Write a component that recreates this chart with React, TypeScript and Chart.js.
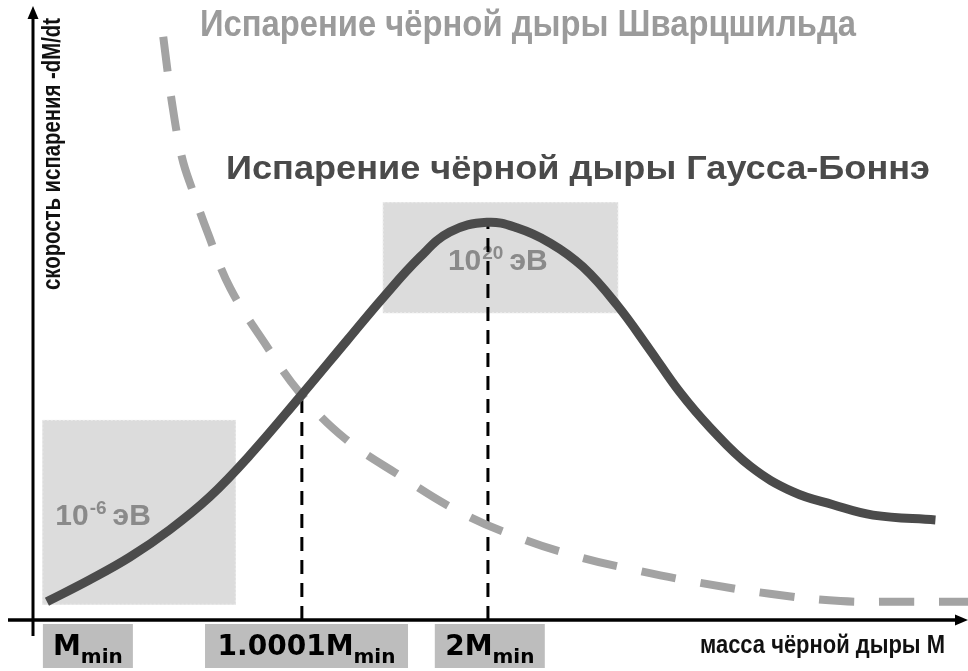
import React, { useEffect, useRef } from "react";
import { Chart, registerables } from "chart.js";

Chart.register(...registerables);

// Испарение чёрной дыры Гаусса-Боннэ (solid curve)
const gbMass = [1.5, 6.1, 10.4, 14.7, 19.0, 23.3, 28.7, 33.8, 37.6, 41.6, 44.8, 48.8, 52.0, 55.6, 59.1, 62.8, 66.3, 69.5, 72.8, 77.1, 81.7, 86.0, 90.3, 97.0];
const gbRate = [3.0, 6.6, 10.3, 14.8, 20.2, 27.0, 36.6, 45.9, 52.8, 59.5, 63.6, 65.2, 64.3, 61.8, 57.9, 51.6, 44.3, 37.4, 31.5, 25.2, 21.0, 18.9, 17.2, 16.4];

// Испарение чёрной дыры Шварцшильда (dashed curve)
const swMass = [14.0, 14.9, 16.0, 17.2, 18.8, 21.2, 24.9, 28.7, 33.5, 39.5, 45.9, 52.4, 58.8, 65.3, 71.7, 79.2, 86.8, 93.2, 100.5];
const swRate = [95.6, 85.2, 75.9, 70.2, 63.4, 54.4, 45.4, 37.2, 29.8, 23.6, 17.7, 13.4, 10.3, 8.0, 6.1, 4.3, 3.1, 3.0, 3.0];

// marker mass values (vertical dashed lines) and the rate where they meet the curve
const markerMass = [28.9, 48.9];
const markerRate = [36.7, 65.2];

// x-axis tick labels
const tickMass = [5.9, 29.4, 49.1];
const tickMain = ["M", "1.0001M", "2M"];
const tickSub = ["min", "min", "min"];

// energy regions
const regionMassFrom = [1.0, 37.6];
const regionMassTo = [21.8, 62.9];
const regionRateFrom = [2.5, 50.3];
const regionRateTo = [32.8, 68.5];
const regionBase = ["10", "10"];
const regionExp = ["-6", "20"];
const regionUnit = ["эВ", "эВ"];
const regionLabelMass = [2.4, 44.6];
const regionLabelRate = [15.6, 57.4];

const titleSchwarzschild = "Испарение чёрной дыры Шварцшильда";
const titleGaussBonnet = "Испарение чёрной дыры Гаусса-Боннэ";
const xAxisTitle = "масса чёрной дыры М";
const yAxisTitle = "скорость испарения -dM/dt";

const drawFit = (
  ctx: CanvasRenderingContext2D,
  text: string,
  x: number,
  y: number,
  w: number,
  font: string,
  color: string
) => {
  ctx.save();
  ctx.font = font;
  const m = ctx.measureText(text).width;
  ctx.translate(x, y);
  ctx.scale(w / m, 1);
  ctx.fillStyle = color;
  ctx.textAlign = "left";
  ctx.textBaseline = "alphabetic";
  ctx.fillText(text, 0, 0);
  ctx.restore();
};

const decorPlugin = {
  id: "decor",
  beforeDatasetsDraw(chart: any) {
    const ctx: CanvasRenderingContext2D = chart.ctx;
    const xs = chart.scales.x;
    const ys = chart.scales.y;
    ctx.save();
    for (let i = 0; i < regionMassFrom.length; i++) {
      const x1 = xs.getPixelForValue(regionMassFrom[i]);
      const x2 = xs.getPixelForValue(regionMassTo[i]);
      const y1 = ys.getPixelForValue(regionRateTo[i]);
      const y2 = ys.getPixelForValue(regionRateFrom[i]);
      ctx.fillStyle = "#dcdcdc";
      ctx.fillRect(x1, y1, x2 - x1, y2 - y1);
      ctx.strokeStyle = "#ececec";
      ctx.lineWidth = 1;
      ctx.setLineDash([2, 2]);
      ctx.strokeRect(x1 + 0.5, y1 + 0.5, x2 - x1 - 1, y2 - y1 - 1);
      ctx.setLineDash([]);
      // label
      let lx = xs.getPixelForValue(regionLabelMass[i]);
      const ly = ys.getPixelForValue(regionLabelRate[i]);
      ctx.fillStyle = "#8a8a8a";
      ctx.textBaseline = "alphabetic";
      ctx.textAlign = "left";
      ctx.font = "bold 30px 'Liberation Sans', Arial, sans-serif";
      ctx.fillText(regionBase[i], lx, ly);
      lx += ctx.measureText(regionBase[i]).width + 1;
      ctx.font = "bold 19px 'Liberation Sans', Arial, sans-serif";
      ctx.fillText(regionExp[i], lx, ly - 11);
      lx += ctx.measureText(regionExp[i]).width + 6;
      ctx.font = "bold 30px 'Liberation Sans', Arial, sans-serif";
      ctx.fillText(regionUnit[i], lx, ly);
    }
    ctx.restore();
  },
  afterDatasetsDraw(chart: any) {
    const ctx: CanvasRenderingContext2D = chart.ctx;
    const xs = chart.scales.x;
    const ys = chart.scales.y;
    const ox = xs.getPixelForValue(0);
    const oy = ys.getPixelForValue(0);
    const top = chart.chartArea.top;
    const right = chart.width;
    ctx.save();

    // bottom tick label boxes
    const boxW = [90, 203, 110];
    for (let i = 0; i < tickMass.length; i++) {
      const cx = xs.getPixelForValue(tickMass[i]);
      ctx.fillStyle = "#bdbdbd";
      ctx.fillRect(cx - boxW[i] / 2, oy + 4, boxW[i], 44);
      ctx.font = "bold 28px 'DejaVu Sans', Verdana, sans-serif";
      const w1 = ctx.measureText(tickMain[i]).width;
      ctx.font = "bold 20px 'DejaVu Sans', Verdana, sans-serif";
      const w2 = ctx.measureText(tickSub[i]).width;
      const sx = cx - (w1 + w2) / 2;
      ctx.fillStyle = "#000";
      ctx.textAlign = "left";
      ctx.textBaseline = "alphabetic";
      ctx.font = "bold 28px 'DejaVu Sans', Verdana, sans-serif";
      ctx.fillText(tickMain[i], sx, oy + 35);
      ctx.font = "bold 20px 'DejaVu Sans', Verdana, sans-serif";
      ctx.fillText(tickSub[i], sx + w1, oy + 43);
    }

    // axes
    ctx.strokeStyle = "#000";
    ctx.fillStyle = "#000";
    ctx.lineWidth = 3;
    ctx.beginPath();
    ctx.moveTo(ox, top + 6);
    ctx.lineTo(ox, oy + 16);
    ctx.stroke();
    ctx.beginPath();
    ctx.moveTo(ox, top - 4);
    ctx.lineTo(ox - 5.5, top + 9);
    ctx.lineTo(ox + 5.5, top + 9);
    ctx.closePath();
    ctx.fill();

    ctx.lineWidth = 3.5;
    ctx.beginPath();
    ctx.moveTo(8, oy);
    ctx.lineTo(right - 10, oy);
    ctx.stroke();
    ctx.beginPath();
    ctx.moveTo(right, oy);
    ctx.lineTo(right - 13, oy - 5.5);
    ctx.lineTo(right - 13, oy + 5.5);
    ctx.closePath();
    ctx.fill();

    // titles
    drawFit(ctx, titleSchwarzschild, 200, 36, 656, "bold 36px 'Liberation Sans', Arial, sans-serif", "#9b9b9b");
    drawFit(ctx, titleGaussBonnet, 226, 179, 704, "bold 33px 'Liberation Sans', Arial, sans-serif", "#4a4a4a");

    // axis titles
    drawFit(ctx, xAxisTitle, 700, oy + 33, 245, "bold 25px 'Liberation Sans Narrow', 'Liberation Sans', Arial, sans-serif", "#111");
    ctx.save();
    ctx.translate(ox + 27, 290);
    ctx.rotate(-Math.PI / 2);
    drawFit(ctx, yAxisTitle, 0, 0, 272, "bold 25px 'Liberation Sans Narrow', 'Liberation Sans', Arial, sans-serif", "#111");
    ctx.restore();

    ctx.restore();
  },
};

export default function App() {
  const canvasRef = useRef<HTMLCanvasElement | null>(null);

  useEffect(() => {
    const canvas = canvasRef.current;
    if (!canvas) return;
    const markerSets = markerMass.map((m, i) => ({
      label: "marker" + i,
      data: [
        { x: m, y: 0 },
        { x: m, y: markerRate[i] },
      ],
      borderColor: "#000",
      borderWidth: 3,
      borderDash: [14, 9],
      pointRadius: 0,
      tension: 0,
      fill: false,
      order: 2,
    }));
    const chart = new Chart(canvas, {
      type: "line",
      data: {
        datasets: [
          {
            label: titleGaussBonnet,
            data: gbMass.map((x, i) => ({ x, y: gbRate[i] })),
            borderColor: "#4b4b4b",
            borderWidth: 9,
            pointRadius: 0,
            tension: 0.4,
            borderCapStyle: "butt",
            borderJoinStyle: "round",
            fill: false,
            order: 0,
          },
          {
            label: titleSchwarzschild,
            data: swMass.map((x, i) => ({ x, y: swRate[i] })),
            borderColor: "#a3a3a3",
            borderWidth: 8,
            borderDash: [35, 25],
            pointRadius: 0,
            tension: 0.4,
            borderCapStyle: "butt",
            fill: false,
            order: 1,
          },
          ...markerSets,
        ] as any,
      },
      options: {
        animation: false,
        responsive: false,
        maintainAspectRatio: false,
        layout: { padding: { left: 33, right: 0, top: 10, bottom: 51 } },
        plugins: {
          legend: { display: false },
          tooltip: { enabled: false },
          title: { display: false },
        },
        scales: {
          x: { type: "linear", min: 0, max: 100.5, display: false },
          y: { type: "linear", min: 0, max: 100, display: false },
        },
      },
      plugins: [decorPlugin],
    });
    return () => chart.destroy();
  }, []);

  return (
    <div style={{ position: "fixed", left: 0, top: 0, width: 968, height: 671, background: "#fff" }}>
      <canvas ref={canvasRef} width={968} height={671} style={{ display: "block" }} />
    </div>
  );
}
